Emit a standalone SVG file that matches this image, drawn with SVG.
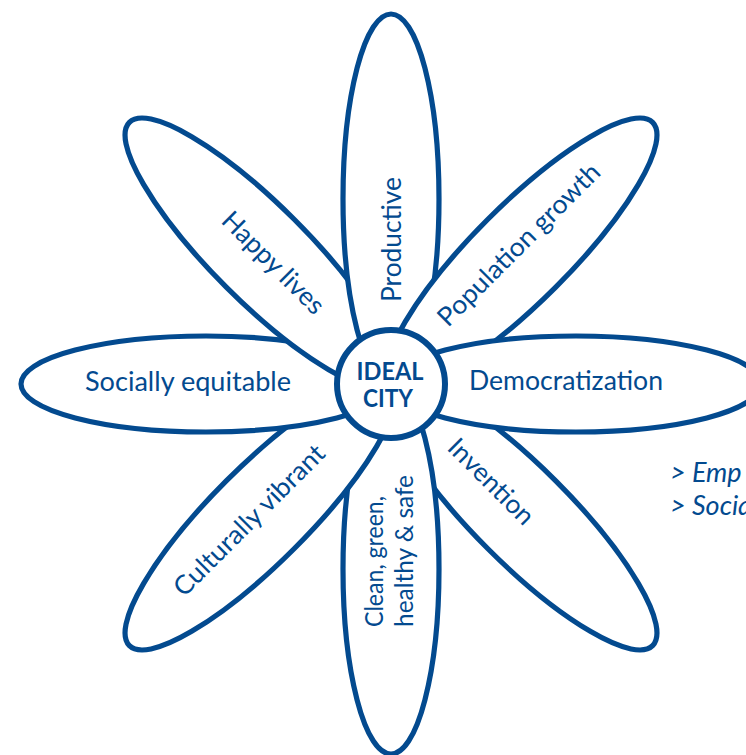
<svg xmlns="http://www.w3.org/2000/svg" width="746" height="755" viewBox="0 0 746 755">
<style>
.petal{fill:#fff;stroke:#034a8f;stroke-width:5.2}
.lbl{font-family:Lato,"Open Sans","Liberation Sans",sans-serif;font-size:26px;fill:#034a8f}
.ctr{font-family:Lato,"Open Sans","Liberation Sans",sans-serif;font-size:25px;font-weight:bold;fill:#034a8f;text-anchor:middle}
.side{font-family:Lato,"Open Sans","Liberation Sans",sans-serif;font-size:27px;font-style:italic;fill:#034a8f}
</style>
<defs>
<ellipse id="petalShape" cx="576" cy="384" rx="185" ry="48"/>
</defs>
<rect width="746" height="755" fill="#fff"/>
<g id="invention">
<use href="#petalShape" class="petal" transform="rotate(45 391 384)"/>
<text class="lbl" transform="translate(446,449) rotate(45)" textLength="110" lengthAdjust="spacingAndGlyphs">Invention</text>
</g>
<g id="clean">
<use href="#petalShape" class="petal" transform="rotate(90 391 384)"/>
<text class="lbl" style="font-size:24.5px" transform="translate(383,627) rotate(-90)" textLength="131" lengthAdjust="spacingAndGlyphs">Clean, green,</text>
<text class="lbl" style="font-size:24.5px" transform="translate(413,627) rotate(-90)" textLength="152" lengthAdjust="spacingAndGlyphs">healthy &amp; safe</text>
</g>
<g id="cultural">
<use href="#petalShape" class="petal" transform="rotate(135 391 384)"/>
<text class="lbl" transform="translate(184,598) rotate(-45)" textLength="202" lengthAdjust="spacingAndGlyphs">Culturally vibrant</text>
</g>
<g id="social">
<use href="#petalShape" class="petal" transform="rotate(180 391 384)"/>
<text class="lbl" x="85" y="391" textLength="206" lengthAdjust="spacingAndGlyphs">Socially equitable</text>
</g>
<g id="happy">
<use href="#petalShape" class="petal" transform="rotate(225 391 384)"/>
<text class="lbl" transform="translate(220,222) rotate(45)" textLength="133" lengthAdjust="spacingAndGlyphs">Happy lives</text>
</g>
<g id="productive">
<use href="#petalShape" class="petal" transform="rotate(270 391 384)"/>
<text class="lbl" transform="translate(401,302) rotate(-90)" textLength="125" lengthAdjust="spacingAndGlyphs">Productive</text>
</g>
<g id="population">
<use href="#petalShape" class="petal" transform="rotate(315 391 384)"/>
<text class="lbl" transform="translate(448,328) rotate(-45)" textLength="218" lengthAdjust="spacingAndGlyphs">Population growth</text>
</g>
<g id="democratization">
<use href="#petalShape" class="petal" transform="rotate(0 391 384)"/>
<text class="lbl" x="469" y="390" textLength="194" lengthAdjust="spacingAndGlyphs">Democratization</text>
</g>
<g id="ideal-city">
<circle cx="391" cy="384" r="54" fill="#fff" stroke="#034a8f" stroke-width="6"/>
<text class="ctr" x="390" y="380" textLength="67" lengthAdjust="spacingAndGlyphs">IDEAL</text>
<text class="ctr" x="388" y="407" textLength="50" lengthAdjust="spacingAndGlyphs">CITY</text>
</g>
<g id="side-notes">
<text class="side" x="670" y="482">&gt; Emp</text>
<text class="side" x="670" y="515">&gt; Socia</text>
</g>
</svg>
